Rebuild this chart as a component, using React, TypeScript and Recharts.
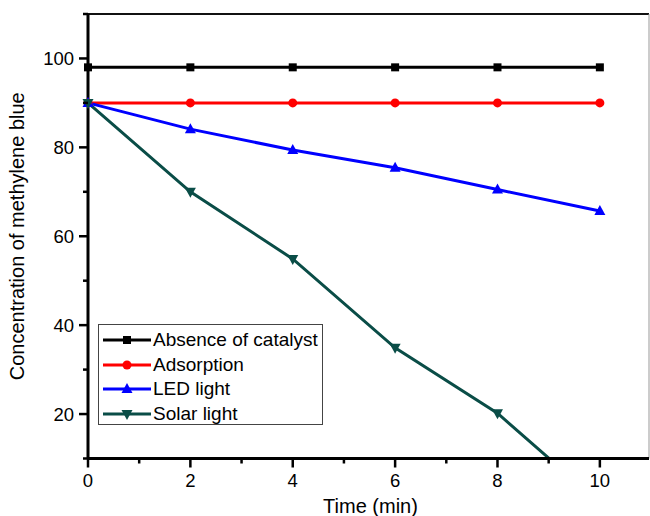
import { LineChart, Line, XAxis, YAxis, ReferenceLine, Legend, Label } from "recharts"

const times = [0, 2, 4, 6, 8, 10]
const absence = [98, 98, 98, 98, 98, 98]
const adsorption = [90, 90, 90, 90, 90, 90]
const ledLight = [90, 84.1, 79.4, 75.4, 70.5, 65.7]
const solarLight = [90, 70, 54.9, 34.9, 20.2, 0]

const xTicks = [0, 1, 2, 3, 4, 5, 6, 7, 8, 9, 10]
const yTicks = [10, 20, 30, 40, 50, 60, 70, 80, 90, 100, 110]

const series = [
  { key: "absence", name: "Absence of catalyst", color: "#000000", shape: "square" },
  { key: "adsorption", name: "Adsorption", color: "#ff0000", shape: "circle" },
  { key: "led", name: "LED light", color: "#0000ff", shape: "up" },
  { key: "solar", name: "Solar light", color: "#0a4d47", shape: "down" },
]

const rows = times.map((t, i) => ({
  time: t,
  absence: absence[i],
  adsorption: adsorption[i],
  led: ledLight[i],
  solar: solarLight[i],
}))

const FONT = "'Liberation Sans', Arial, sans-serif"

function Marker({ cx, cy, shape, color }: { cx: number; cy: number; shape: string; color: string }) {
  if (shape === "square") return <rect x={cx - 4} y={cy - 4} width={8} height={8} fill={color} />
  if (shape === "circle") return <circle cx={cx} cy={cy} r={4.5} fill={color} />
  if (shape === "up")
    return <polygon points={`${cx},${cy - 6} ${cx - 5.5},${cy + 4} ${cx + 5.5},${cy + 4}`} fill={color} />
  return <polygon points={`${cx},${cy + 6} ${cx - 5.5},${cy - 4} ${cx + 5.5},${cy - 4}`} fill={color} />
}

const XTick = (props: any) => {
  const { x, y, payload } = props
  const major = payload.value % 2 === 0
  return (
    <g>
      <line x1={x} x2={x} y1={y} y2={y + (major ? 9 : 5)} stroke="#000" strokeWidth={2.5} />
      {major && (
        <text x={x} y={y + 28.5} textAnchor="middle" fontSize={18.5} fontFamily={FONT} fill="#000">
          {payload.value}
        </text>
      )}
    </g>
  )
}

const YTick = (props: any) => {
  const { x, y, payload } = props
  const v = payload.value
  const major = v % 20 === 0 && v >= 20 && v <= 100
  return (
    <g>
      <line x1={x - (major ? 9 : 5)} x2={x} y1={y} y2={y} stroke="#000" strokeWidth={2.5} />
      {major && (
        <text x={x - 14} y={y + 6.5} textAnchor="end" fontSize={18.5} fontFamily={FONT} fill="#000">
          {v}
        </text>
      )}
    </g>
  )
}

const LegendBox = () => (
  <div
    style={{
      width: 225,
      height: 101,
      boxSizing: "border-box",
      border: "1px solid #444",
      background: "#fff",
      position: "relative",
    }}
  >
    {series.map((s, i) => (
      <div
        key={s.key}
        style={{ position: "absolute", left: 0, top: 2 + i * 24.6, height: 26, display: "flex", alignItems: "center" }}
      >
        <svg width={56} height={26} style={{ display: "block" }}>
          <line x1={4} x2={52} y1={13} y2={13} stroke={s.color} strokeWidth={3} />
          <Marker cx={28} cy={13} shape={s.shape} color={s.color} />
        </svg>
        <span style={{ fontFamily: FONT, fontSize: 19, color: "#000", whiteSpace: "nowrap", marginLeft: -2 }}>
          {s.name}
        </span>
      </div>
    ))}
  </div>
)

export default function App() {
  return (
    <div style={{ position: "absolute", left: 0, top: 0, width: 650, height: 516, background: "#fff" }}>
      <LineChart width={650} height={516} data={rows} margin={{ top: 14, right: 1, bottom: 0, left: 0 }}>
        <XAxis
          dataKey="time"
          type="number"
          domain={[0, 10.96]}
          ticks={xTicks}
          interval={0}
          height={57.5}
          tickSize={0}
          tickMargin={0}
          tickLine={false}
          tick={<XTick />}
          axisLine={{ stroke: "#000", strokeWidth: 3 }}
        >
          <Label
            content={(p: any) => {
              const vb = p.viewBox
              return (
                <text x={vb.x + vb.width / 2 + 2} y={513} textAnchor="middle" fontSize={20} fontFamily={FONT} fill="#000">
                  Time (min)
                </text>
              )
            }}
          />
        </XAxis>
        <YAxis
          type="number"
          domain={[10, 110]}
          ticks={yTicks}
          interval={0}
          allowDataOverflow
          width={88}
          tickSize={0}
          tickMargin={0}
          tickLine={false}
          tick={<YTick />}
          axisLine={{ stroke: "#000", strokeWidth: 3 }}
        >
          <Label
            content={(p: any) => {
              const vb = p.viewBox
              const cy = vb.y + vb.height / 2
              return (
                <text
                  x={24}
                  y={cy}
                  transform={`rotate(-90 24 ${cy})`}
                  textAnchor="middle"
                  fontSize={20}
                  fontFamily={FONT}
                  fill="#000"
                >
                  Concentration of methylene blue
                </text>
              )
            }}
          />
        </YAxis>
        <ReferenceLine y={110} stroke="#111" strokeWidth={2} />
        <ReferenceLine x={10.96} stroke="#999" strokeWidth={1} />
        {series.map((s) => (
          <Line
            key={s.key}
            dataKey={s.key}
            name={s.name}
            stroke={s.color}
            strokeWidth={3}
            isAnimationActive={false}
            dot={(p: any) => <Marker key={`${s.key}-${p.index}`} cx={p.cx} cy={p.cy} shape={s.shape} color={s.color} />}
            activeDot={false}
          />
        ))}
        <Legend
          layout="horizontal"
          verticalAlign="middle"
          align="center"
          content={() => <LegendBox />}
          wrapperStyle={{ position: "absolute", left: 98, top: 324, width: 225, height: 101, margin: 0 }}
        />
      </LineChart>
    </div>
  )
}
